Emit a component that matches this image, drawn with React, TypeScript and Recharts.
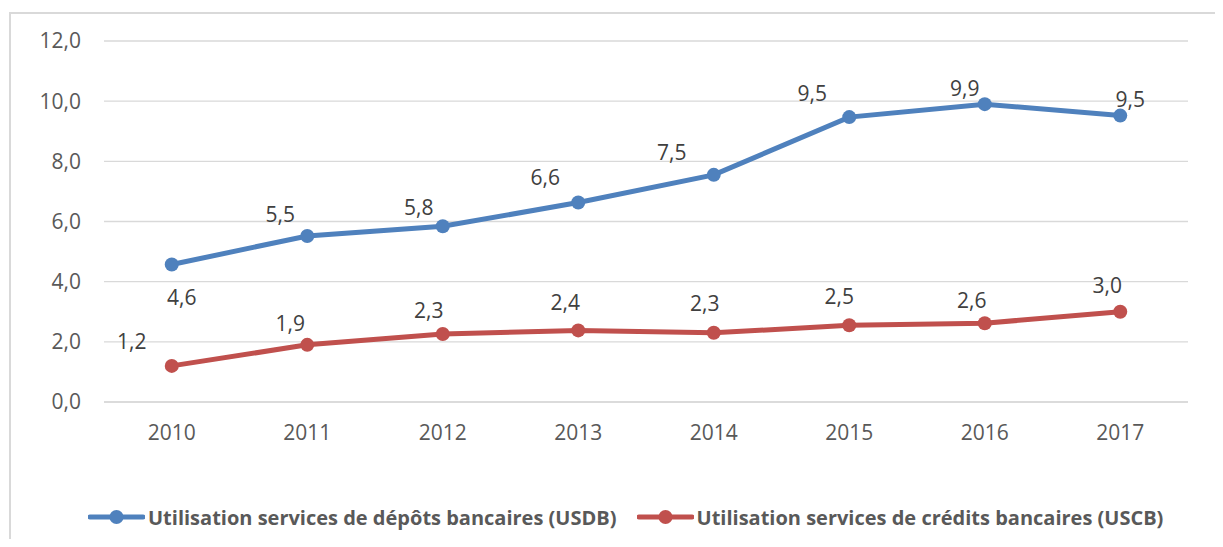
import React from "react";
import { LineChart, Line, XAxis, YAxis, CartesianGrid } from "recharts";

const years = ["2010", "2011", "2012", "2013", "2014", "2015", "2016", "2017"];
const usdb = [4.57, 5.52, 5.84, 6.63, 7.55, 9.47, 9.9, 9.52];
const uscb = [1.2, 1.9, 2.26, 2.38, 2.3, 2.55, 2.62, 3.0];
const yTicks = [0, 2, 4, 6, 8, 10, 12];
const seriesNames = [
  "Utilisation services de dépôts bancaires (USDB)",
  "Utilisation services de crédits bancaires (USCB)",
];

const data = years.map((y, i) => ({ year: y, usdb: usdb[i], uscb: uscb[i] }));

const BLUE = "#4f81bd";
const RED = "#c0504d";
const FONT = "'Open Sans', sans-serif";

const blueOffsets: [number, number][] = [
  [10, 33], [-27, -21], [-24, -19], [-33, -25], [-42, -22], [-37, -24], [-20, -16], [10, -16],
];
const redOffsets: [number, number][] = [
  [-40, -24], [-17, -21], [-14, -23], [-13, -28], [-9, -29], [-10, -29], [-13, -23], [-13, -26],
];

const fmt = (v: number) => v.toFixed(1).replace(".", ",");

const makeLabel = (offsets: [number, number][]) => (props: any) => {
  const { x, y, value, index } = props;
  const [dx, dy] = offsets[index] || [0, -20];
  return (
    <text
      x={x + dx}
      y={y + dy}
      dy="0.355em"
      textAnchor="middle"
      fill="#404040"
      fontSize={21}
      fontFamily={FONT}
    >
      {fmt(value)}
    </text>
  );
};

const LegendIcon = ({ color }: { color: string }) => (
  <svg width={57} height={16} style={{ display: "block" }}>
    <line x1={2} y1={8} x2={55} y2={8} stroke={color} strokeWidth={5} strokeLinecap="round" />
    <circle cx={28.5} cy={8} r={7} fill={color} />
  </svg>
);

export default function App() {
  return (
    <div style={{ position: "relative", width: 1207, height: 531, overflow: "hidden", background: "#fff" }}>
      <div
        style={{
          position: "absolute",
          left: 1,
          top: 4,
          width: 3000,
          height: 3000,
          border: "2px solid #d9d9d9",
          boxSizing: "border-box",
        }}
      />
      <div style={{ position: "absolute", left: 0, top: 0 }}>
        <LineChart
          width={1207}
          height={531}
          data={data}
          margin={{ top: 33, right: 27, left: 0, bottom: 107 }}
        >
          <CartesianGrid vertical={false} stroke="#d9d9d9" strokeWidth={1.3} />
          <XAxis
            dataKey="year"
            height={30}
            padding={{ left: 67.75, right: 67.75 }}
            axisLine={{ stroke: "#d9d9d9", strokeWidth: 1.3 }}
            tickLine={false}
            tickMargin={17}
            tick={{ fill: "#595959", fontSize: 21, fontFamily: FONT }}
          />
          <YAxis
            width={96}
            domain={[0, 12]}
            ticks={yTicks}
            interval={0}
            axisLine={false}
            tickLine={false}
            tickMargin={17}
            tickFormatter={fmt}
            tick={{ fill: "#595959", fontSize: 21, fontFamily: FONT }}
          />
          <Line
            dataKey="usdb"
            stroke={BLUE}
            strokeWidth={5}
            dot={{ r: 7, fill: BLUE, stroke: BLUE, strokeWidth: 0 }}
            activeDot={false}
            isAnimationActive={false}
            label={makeLabel(blueOffsets)}
          />
          <Line
            dataKey="uscb"
            stroke={RED}
            strokeWidth={5}
            dot={{ r: 7, fill: RED, stroke: RED, strokeWidth: 0 }}
            activeDot={false}
            isAnimationActive={false}
            label={makeLabel(redOffsets)}
          />
        </LineChart>
      </div>
      <div
        style={{
          position: "absolute",
          left: 80,
          top: 494,
          height: 30,
          display: "flex",
          alignItems: "center",
          fontFamily: FONT,
          fontWeight: 700,
          fontSize: 20,
          color: "#595959",
          whiteSpace: "nowrap",
        }}
      >
        <LegendIcon color={BLUE} />
        <span style={{ marginLeft: 3 }}>{seriesNames[0]}</span>
        <span style={{ marginLeft: 20 }}>
          <LegendIcon color={RED} />
        </span>
        <span style={{ marginLeft: 3 }}>{seriesNames[1]}</span>
      </div>
    </div>
  );
}
